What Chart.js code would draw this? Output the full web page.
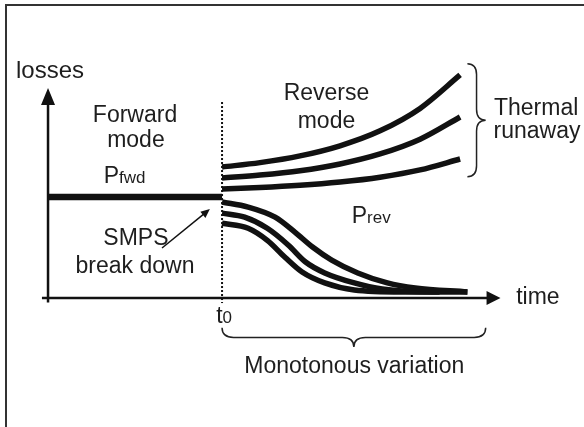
<!DOCTYPE html>
<html>
<head>
<meta charset="utf-8">
<script src="https://cdn.jsdelivr.net/npm/chart.js@4.4.1/dist/chart.umd.min.js"></script>
<style>
  html, body { margin: 0; padding: 0; background: #fff; }
  #wrap { position: relative; width: 584px; height: 427px; }
</style>
</head>
<body>
<div id="wrap"><canvas id="myChart"></canvas></div>
<script>
// units: time axis origin = 0, t0 = 10 ; losses: 0 on the time axis, Pfwd = 10
const t0 = 10
const pFwd = 10

const fwdTime = [0, t0]
const fwdLoss = [pFwd, pFwd]

// thermal runaway curves
const runTime = [10, 12.18, 14.48, 16.78, 19.08, 21.38, 23.68]
const runLoss1 = [12.97, 13.4, 14.07, 15.07, 16.55, 18.77, 22.08]
const runLoss2 = [11.88, 12.17, 12.6, 13.27, 14.26, 15.72, 17.92]
const runLoss3 = [10.79, 10.93, 11.15, 11.48, 11.96, 12.68, 13.76]

// monotonous decay curves
const decTime1 = [10, 11.5, 13.05, 14.2, 15.2, 16.3, 17.8, 19.5, 21.1, 24.1]
const decLoss1 = [9.5, 9.0, 8.0, 6.5, 5.05, 3.76, 2.48, 1.49, 0.99, 0.6]
const decTime2 = [10, 11.3, 12.6, 13.8, 14.8, 15.9, 17.6, 19.2, 22.1, 24.1]
const decLoss2 = [8.4, 8.0, 6.9, 5.25, 3.56, 2.48, 1.49, 0.89, 0.6, 0.6]
const decTime3 = [10, 11.5, 12.6, 13.6, 14.6, 15.9, 17.6, 20.3, 22.5]
const decLoss3 = [7.4, 6.9, 5.7, 4.06, 2.57, 1.49, 0.79, 0.6, 0.6]

const xMin = -2.76, xMax = 30.8
const yMin = -12.77, yMax = 29.5

function zip(ts, ls) {
  return ts.map((t, i) => ({ x: t, y: ls[i] }))
}

function curve(ts, ls, w) {
  return {
    data: zip(ts, ls),
    borderColor: '#111',
    borderWidth: w,
    borderCapStyle: 'butt',
    cubicInterpolationMode: 'monotone',
    pointRadius: 0,
    fill: false
  }
}

const FONT = '"Liberation Sans", Arial, sans-serif'
const TXT = '#1e1e1e'

function drawText(ctx, str, x, y, size, align) {
  ctx.font = size + 'px ' + FONT
  ctx.fillStyle = TXT
  ctx.textAlign = align || 'center'
  ctx.textBaseline = 'alphabetic'
  ctx.fillText(str, x, y)
}

function drawSub(ctx, main, sub, x, y) {
  ctx.font = '23px ' + FONT
  ctx.fillStyle = TXT
  ctx.textAlign = 'left'
  ctx.textBaseline = 'alphabetic'
  ctx.fillText(main, x, y)
  let w = ctx.measureText(main).width
  ctx.font = '17px ' + FONT
  ctx.fillText(sub, x + w, y)
}

// brace along vertical (dir 'v', tip to the right) or horizontal (dir 'h', tip downwards)
function brace(ctx, a, b, c, d, dir) {
  ctx.beginPath()
  ctx.strokeStyle = '#222'
  ctx.lineWidth = 1.5
  let m = (a + b) / 2
  let h = d / 2
  let r = Math.abs(d) * 0.6
  let s = Math.sign(b - a)
  if (dir === 'v') {
    ctx.moveTo(c, a)
    ctx.quadraticCurveTo(c + h, a, c + h, a + s * r)
    ctx.lineTo(c + h, m - s * r)
    ctx.quadraticCurveTo(c + h, m, c + d, m)
    ctx.quadraticCurveTo(c + h, m, c + h, m + s * r)
    ctx.lineTo(c + h, b - s * r)
    ctx.quadraticCurveTo(c + h, b, c, b)
  } else {
    ctx.moveTo(a, c)
    ctx.quadraticCurveTo(a, c + h, a + s * r, c + h)
    ctx.lineTo(m - s * r, c + h)
    ctx.quadraticCurveTo(m, c + h, m, c + d)
    ctx.quadraticCurveTo(m, c + h, m + s * r, c + h)
    ctx.lineTo(b - s * r, c + h)
    ctx.quadraticCurveTo(b, c + h, b, c)
  }
  ctx.stroke()
}

const diagramPlugin = {
  id: 'diagram',
  beforeDatasetsDraw(chart) {
    const ctx = chart.ctx
    const xs = chart.scales.x, ys = chart.scales.y
    const px = v => xs.getPixelForValue(v)
    const py = v => ys.getPixelForValue(v)
    ctx.save()

    // frame
    ctx.strokeStyle = '#333'
    ctx.lineWidth = 2
    ctx.beginPath()
    ctx.moveTo(6, 427)
    ctx.lineTo(6, 5)
    ctx.lineTo(584, 5)
    ctx.stroke()

    // axes
    ctx.strokeStyle = '#111'
    ctx.fillStyle = '#111'
    ctx.lineWidth = 2.5
    ctx.beginPath()
    ctx.moveTo(px(0), py(-0.45))
    ctx.lineTo(px(0), py(19.2))
    ctx.moveTo(px(-0.35), py(0))
    ctx.lineTo(px(25.3), py(0))
    ctx.stroke()
    // arrow heads
    ctx.beginPath()
    ctx.moveTo(px(0), py(20.8))
    ctx.lineTo(px(0) - 7, py(19.1))
    ctx.lineTo(px(0) + 7, py(19.1))
    ctx.closePath()
    ctx.fill()
    ctx.beginPath()
    ctx.moveTo(px(26.0), py(0))
    ctx.lineTo(px(25.2), py(0) - 7)
    ctx.lineTo(px(25.2), py(0) + 7)
    ctx.closePath()
    ctx.fill()

    // dotted t0 line
    ctx.lineWidth = 2
    ctx.setLineDash([2, 2])
    ctx.beginPath()
    ctx.moveTo(px(t0), py(19.4))
    ctx.lineTo(px(t0), py(-0.5))
    ctx.stroke()
    ctx.setLineDash([])
    ctx.restore()
  },
  afterDatasetsDraw(chart) {
    const ctx = chart.ctx
    const xs = chart.scales.x, ys = chart.scales.y
    const px = v => xs.getPixelForValue(v)
    const py = v => ys.getPixelForValue(v)
    ctx.save()

    drawText(ctx, 'losses', px(-1.84), py(21.8), 24, 'left')
    drawText(ctx, 'Forward', px(5.0), py(17.4), 23)
    drawText(ctx, 'mode', px(5.05), py(14.95), 23)
    drawSub(ctx, 'P', 'fwd', px(3.2), py(11.4))
    drawText(ctx, 'SMPS', px(5.05), py(5.25), 23)
    drawText(ctx, 'break down', px(5.0), py(2.48), 23)
    drawText(ctx, 'Reverse', px(16.0), py(19.6), 23)
    drawText(ctx, 'mode', px(16.0), py(16.8), 23)
    drawText(ctx, 'Thermal', px(28.05), py(18.1), 23)
    drawText(ctx, 'runaway', px(28.1), py(15.85), 23)
    drawSub(ctx, 'P', 'rev', px(17.45), py(7.43))
    drawText(ctx, 'time', px(26.9), py(-0.6), 23, 'left')
    drawSub(ctx, 't', '0', px(9.66), py(-2.48))
    drawText(ctx, 'Monotonous variation', px(17.6), py(-7.43), 23)

    // SMPS arrow
    let x1 = px(6.55), y1 = py(4.95), x2 = px(9.3), y2 = py(8.8)
    let ang = Math.atan2(y2 - y1, x2 - x1)
    ctx.strokeStyle = '#111'
    ctx.fillStyle = '#111'
    ctx.lineWidth = 1.5
    ctx.beginPath()
    ctx.moveTo(x1, y1)
    ctx.lineTo(x2 - 6 * Math.cos(ang), y2 - 6 * Math.sin(ang))
    ctx.stroke()
    ctx.beginPath()
    ctx.moveTo(x2, y2)
    ctx.lineTo(x2 - 9 * Math.cos(ang) + 4 * Math.sin(ang), y2 - 9 * Math.sin(ang) - 4 * Math.cos(ang))
    ctx.lineTo(x2 - 9 * Math.cos(ang) - 4 * Math.sin(ang), y2 - 9 * Math.sin(ang) + 4 * Math.cos(ang))
    ctx.closePath()
    ctx.fill()

    // braces
    brace(ctx, py(23.2), py(12.0), px(24.1), px(25.15) - px(24.1), 'v')
    brace(ctx, px(t0), px(25.15), py(-2.95), py(-4.85) - py(-2.95), 'h')

    ctx.restore()
  }
}

let data = {
  datasets: [
    curve(fwdTime, fwdLoss, 6.5),
    curve(runTime, runLoss1, 5.5),
    curve(runTime, runLoss2, 5.5),
    curve(runTime, runLoss3, 5.5),
    curve(decTime1, decLoss1, 5.5),
    curve(decTime2, decLoss2, 5.5),
    curve(decTime3, decLoss3, 5.5)
  ]
}

let config = {
  type: 'line',
  data: data,
  options: {
    responsive: true,
    maintainAspectRatio: false,
    animation: false,
    layout: { padding: 0 },
    scales: {
      x: { type: 'linear', min: xMin, max: xMax, display: false },
      y: { type: 'linear', min: yMin, max: yMax, display: false }
    },
    plugins: {
      legend: { display: false },
      tooltip: { enabled: false }
    }
  },
  plugins: [diagramPlugin]
}

let myChart = new Chart(document.getElementById('myChart'), config)
</script>
</body>
</html>
